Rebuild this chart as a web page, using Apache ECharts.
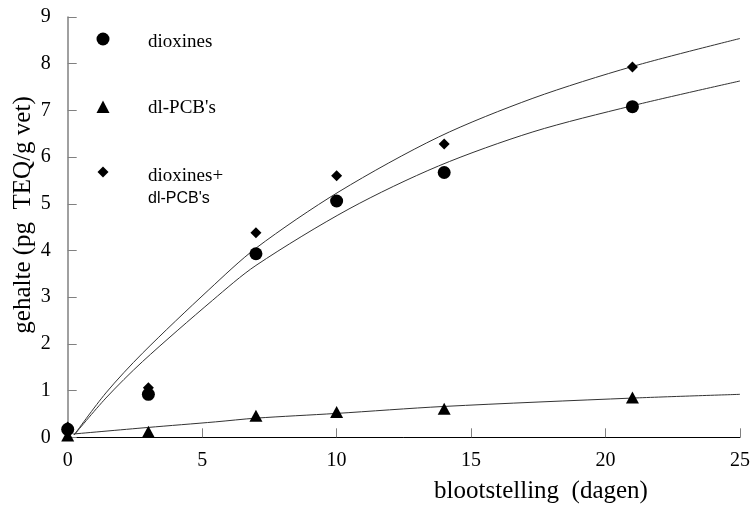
<!DOCTYPE html>
<html>
<head>
<meta charset="utf-8">
<script src="https://cdn.jsdelivr.net/npm/echarts@6/dist/echarts.min.js"></script>
<style>
  html, body { margin: 0; padding: 0; background: #fff; }
  #main { width: 753px; height: 506px; }
</style>
</head>
<body>
<div id="main"></div>
<script>
// meetpunten
const days = [0, 3, 7, 10, 14, 21];
const dioxines = [0.17, 0.92, 3.93, 5.06, 5.67, 7.08];
const pcbs = [0.04, 0.12, 0.46, 0.54, 0.61, 0.85];
const totaal = [0.22, 1.06, 4.38, 5.6, 6.28, 7.93];

const fitTotaalX = [0.24, 1.42, 2.78, 5.25, 7, 10.09, 13.79, 17.3, 21, 25];
const fitTotaalY = [0.05, 0.95, 1.8, 3.16, 4.05, 5.26, 6.43, 7.26, 7.94, 8.54];
const fitDioxX = [0.24, 1.42, 2.78, 5.38, 7, 10.46, 13.79, 17.3, 21, 25];
const fitDioxY = [0.05, 0.84, 1.62, 2.93, 3.68, 4.89, 5.81, 6.54, 7.1, 7.63];
const fitPcbX = [0.2, 2.97, 5.49, 7, 9.96, 13.97, 21.01, 25];
const fitPcbY = [0.07, 0.21, 0.33, 0.41, 0.51, 0.66, 0.84, 0.92];

const xTicks = [0, 5, 10, 15, 20, 25];
const yTicks = [0, 1, 2, 3, 4, 5, 6, 7, 8, 9];

const serif = "'Liberation Serif', 'Times New Roman', serif";

function pairs(xs, ys) {
    return xs.map(function (x, i) { return [x, ys[i]]; });
}

var dom = document.getElementById('main');
var myChart = echarts.init(dom, null, { renderer: 'canvas' });

var triangle = 'path://M0,-10 L10,8 L-10,8 Z';

var option = {
    animation: false,
    backgroundColor: '#fff',
    grid: { left: 67.7, right: 10.3, top: 17, bottom: 68.7 },
    xAxis: {
        type: 'value',
        min: xTicks[0],
        max: xTicks[xTicks.length - 1],
        interval: 5,
        axisLine: { lineStyle: { color: '#000', width: 1 } },
        axisTick: { inside: true, length: 9, lineStyle: { color: '#808080' } },
        axisLabel: { color: '#000', fontFamily: serif, fontSize: 20, margin: 13 },
        splitLine: { show: false }
    },
    yAxis: {
        type: 'value',
        min: yTicks[0],
        max: yTicks[yTicks.length - 1],
        interval: 1,
        axisLine: { show: true, lineStyle: { color: '#808080', width: 1.5 } },
        axisTick: { show: true, inside: true, length: 9, lineStyle: { color: '#808080' } },
        axisLabel: { color: '#000', fontFamily: serif, fontSize: 20, margin: 17 },
        splitLine: { show: false }
    },
    graphic: [
        // aslabels
        {
            type: 'text', x: 541, y: 491,
            style: { text: 'blootstelling  (dagen)', fill: '#000', font: '25px ' + serif, textAlign: 'center', textVerticalAlign: 'middle' }
        },
        {
            type: 'text', x: 23, y: 215, rotation: Math.PI / 2,
            style: { text: 'gehalte (pg  TEQ/g vet)', fill: '#000', font: '25px ' + serif, textAlign: 'center', textVerticalAlign: 'middle' }
        },
        // legenda
        { type: 'circle', shape: { cx: 103, cy: 39, r: 6.5 }, style: { fill: '#000' } },
        { type: 'polygon', shape: { points: [[103, 100.5], [109.5, 113], [96.5, 113]] }, style: { fill: '#000' } },
        { type: 'polygon', shape: { points: [[103, 166.5], [108.5, 172], [103, 177.5], [97.5, 172]] }, style: { fill: '#000' } },
        { type: 'text', x: 148, y: 42, style: { text: 'dioxines', fill: '#000', font: '19px ' + serif, textVerticalAlign: 'middle' } },
        { type: 'text', x: 148, y: 108, style: { text: "dl-PCB's", fill: '#000', font: '19px ' + serif, textVerticalAlign: 'middle' } },
        { type: 'text', x: 148, y: 176, style: { text: 'dioxines+', fill: '#000', font: '19px ' + serif, textVerticalAlign: 'middle' } },
        { type: 'text', x: 148, y: 199, style: { text: "dl-PCB's", fill: '#000', font: "16px 'Liberation Sans', Arial, sans-serif", textVerticalAlign: 'middle' } }
    ],
    series: [
        {
            name: 'fit totaal', type: 'line', data: pairs(fitTotaalX, fitTotaalY),
            showSymbol: false, smooth: 0.3,
            lineStyle: { color: '#333', width: 1 }, z: 1
        },
        {
            name: 'fit dioxines', type: 'line', data: pairs(fitDioxX, fitDioxY),
            showSymbol: false, smooth: 0.3,
            lineStyle: { color: '#333', width: 1 }, z: 1
        },
        {
            name: 'fit pcb', type: 'line', data: pairs(fitPcbX, fitPcbY),
            showSymbol: false, smooth: 0.3,
            lineStyle: { color: '#333', width: 1 }, z: 1
        },
        {
            name: "dl-PCB's", type: 'scatter', data: pairs(days, pcbs),
            symbol: triangle, symbolSize: [13, 12], itemStyle: { color: '#000', opacity: 1 }, z: 3
        },
        {
            name: 'dioxines+dl-PCB\'s', type: 'scatter', data: pairs(days, totaal),
            symbol: 'diamond', symbolSize: [11, 11], itemStyle: { color: '#000', opacity: 1 }, z: 3
        },
        {
            name: 'dioxines', type: 'scatter', data: pairs(days, dioxines),
            symbol: 'circle', symbolSize: 13, itemStyle: { color: '#000', opacity: 1 }, z: 3
        }
    ]
};

if (option && typeof option === 'object') {
    myChart.setOption(option);
}

window.addEventListener('resize', myChart.resize);
</script>
</body>
</html>
